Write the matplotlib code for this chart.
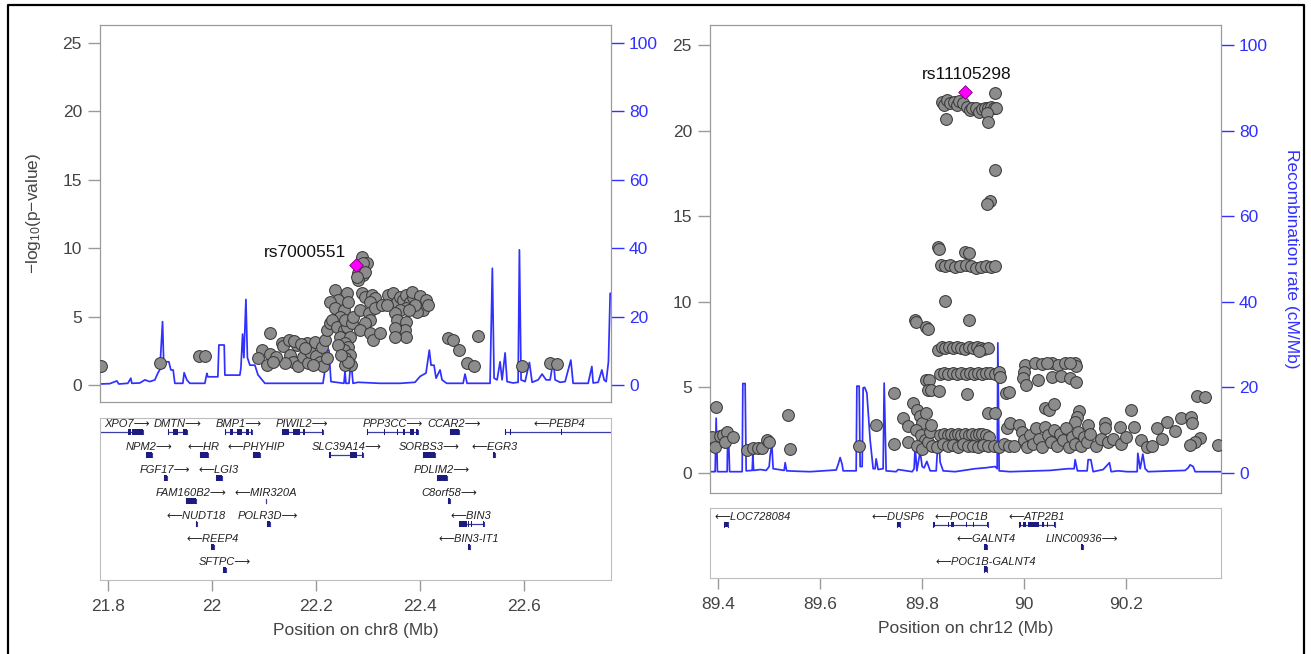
import matplotlib
matplotlib.use("Agg")
import matplotlib.pyplot as plt
from matplotlib.lines import Line2D
from matplotlib.patches import Rectangle
from matplotlib.ticker import FuncFormatter

plt.rcParams["font.family"] = ["Liberation Sans", "DejaVu Sans"]
plt.rcParams["mathtext.default"] = "regular"

# ---------------- chr8 region ----------------
chr8_snp_x = [21.786, 21.901, 21.976, 21.987,
              22.1115, 22.0956, 22.089, 22.105, 22.1115, 22.134, 22.137, 22.15, 22.156, 22.163,
              22.166, 22.176, 22.182, 22.185, 22.188, 22.198, 22.201, 22.208, 22.211, 22.214,
              22.217, 22.221, 22.222, 22.227, 22.149, 22.158, 22.171, 22.179, 22.194, 22.14,
              22.124, 22.118,
              22.237, 22.259, 22.243, 22.227, 22.237, 22.253, 22.262, 22.246, 22.231, 22.24,
              22.253, 22.259, 22.246, 22.265, 22.256, 22.262, 22.253, 22.265, 22.256, 22.268,
              22.256, 22.256, 22.269, 22.272, 22.243, 22.262, 22.249,
              22.288, 22.294, 22.307, 22.313, 22.304, 22.285, 22.301, 22.313, 22.326, 22.339,
              22.349, 22.355, 22.362, 22.368, 22.374, 22.381, 22.387, 22.397, 22.403, 22.406,
              22.394, 22.374, 22.362, 22.352, 22.336, 22.304, 22.294, 22.285, 22.355, 22.374,
              22.371, 22.352, 22.304, 22.310, 22.323, 22.374, 22.352,
              22.385, 22.4, 22.412, 22.415, 22.39, 22.379,
              22.288, 22.298, 22.291, 22.281, 22.291, 22.281, 22.294, 22.278,
              22.454, 22.464, 22.474, 22.512, 22.49, 22.503, 22.596, 22.649, 22.663]
chr8_snp_y = [1.39, 1.63, 2.12, 2.12,
              3.78, 2.56, 1.95, 1.46, 2.27, 3.05, 2.85, 2.19, 1.70, 2.92,
              1.39, 2.07, 3.05, 1.63, 2.43, 3.17, 2.12, 1.70, 2.80, 1.39,
              3.29, 1.95, 4.02, 4.55, 3.29, 3.24, 3.0, 2.68, 1.46, 1.59,
              2.07, 1.70,
              6.94, 6.70, 6.21, 6.09, 5.6, 5.48, 6.09, 4.99, 4.75, 4.26,
              4.02, 4.26, 3.53, 3.53, 3.05, 2.8, 2.56, 2.19, 1.95, 1.46,
              1.46, 4.75, 4.51, 4.99, 2.92, 1.70, 2.19,
              6.70, 6.45, 6.58, 6.34, 6.09, 5.48, 5.24, 5.61, 5.85, 6.58,
              6.70, 6.09, 6.45, 6.21, 6.58, 6.09, 6.45, 5.85, 6.09, 5.48,
              5.36, 5.61, 5.48, 5.24, 5.85, 4.75, 4.51, 4.02, 4.75, 4.63,
              4.02, 4.14, 3.78, 3.29, 3.78, 3.53, 3.53,
              6.8, 6.5, 6.2, 5.85, 5.85, 5.48,
              9.38, 8.9, 8.9, 8.17, 8.04, 7.68, 8.28, 7.9,
              3.41, 3.29, 2.56, 3.58, 1.59, 1.39, 1.39, 1.59, 1.54]
chr8_lead_x = 22.276
chr8_lead_y = 8.75
chr8_lead_name = "rs7000551"

chr8_recomb_x = [21.7846, 21.8038, 21.8173, 21.8212, 21.8385, 21.8442, 21.8462, 21.8615, 21.8712,
                 21.8808, 21.8904, 21.8962, 21.9, 21.9052, 21.9077, 21.9115, 21.9173, 21.9212,
                 21.9256, 21.9288, 21.9442, 21.9467, 21.9519, 21.9577, 21.9865, 21.9904, 21.9923,
                 22.0115, 22.0135, 22.0237, 22.0250, 22.0538, 22.0558, 22.0590, 22.0615, 22.0654,
                 22.0683, 22.0731, 22.0827, 22.0885, 22.1019, 22.2135, 22.2173, 22.2212, 22.225,
                 22.2288, 22.2538, 22.2558, 22.2577, 22.2635, 22.2654, 22.2692, 22.2712, 22.2808,
                 22.3231, 22.3615, 22.3904, 22.4, 22.4115, 22.4179, 22.4212, 22.4269, 22.4308,
                 22.4385, 22.4423, 22.4513, 22.4827, 22.4865, 22.4904, 22.5346, 22.5390, 22.5423,
                 22.5481, 22.5538, 22.5577, 22.5635, 22.5673, 22.5788, 22.5885, 22.5910, 22.5942,
                 22.6019, 22.6102, 22.6154, 22.6269, 22.6346, 22.6423, 22.65, 22.6563, 22.6596,
                 22.6692, 22.6788, 22.6898, 22.6942, 22.7231, 22.7302, 22.7327, 22.7423, 22.7494,
                 22.7538, 22.7577, 22.7621, 22.7654, 22.7673]
chr8_recomb_y = [0.3, 0.4, 1.2, 0.3, 0.5, 2.0, 0.5, 0.6, 1.5,
                 1.0, 1.5, 3.5, 4.5, 18.5, 5.0, 6.8, 6.8, 4.4,
                 4.4, 0.5, 0.5, 3.6, 1.5, 0.5, 0.5, 3.4, 2.4,
                 2.4, 11.7, 11.7, 2.9, 2.9, 5.0, 14.9, 8.0, 25.0,
                 8.0, 5.8, 5.8, 3.0, 0.5, 0.5, 4.4, 10.2, 10.2,
                 1.0, 0.5, 4.0, 0.5, 0.5, 4.0, 4.0, 0.5, 0.8,
                 0.5, 0.5, 0.8, 2.5, 3.5, 10.2, 5.8, 5.8, 2.0,
                 4.4, 1.5, 0.5, 0.5, 3.2, 0.5, 0.5, 34.1, 2.0,
                 1.5, 6.8, 1.5, 9.4, 1.0, 0.6, 0.8, 39.5, 1.5,
                 1.0, 6.6, 0.8, 1.5, 3.2, 1.5, 1.5, 7.3, 1.5,
                 0.8, 1.0, 7.3, 0.5, 0.5, 5.4, 0.6, 0.8, 4.4,
                 1.5, 1.0, 6.8, 26.8, 26.8]

chr8_genes = [("XPO7", 21.777, 21.867, "+", 0), ("DMTN", 21.915, 21.952, "+", 0),
              ("BMP1", 22.025, 22.077, "+", 0), ("PIWIL2", 22.134, 22.214, "+", 0),
              ("PPP3CC", 22.298, 22.397, "+", 0), ("CCAR2", 22.458, 22.474, "+", 0),
              ("PEBP4", 22.563, 22.771, "-", 0),
              ("NPM2", 21.874, 21.884, "+", 1), ("HR", 21.977, 21.992, "-", 1),
              ("PHYHIP", 22.079, 22.092, "-", 1), ("SLC39A14", 22.226, 22.291, "+", 1),
              ("SORBS3", 22.405, 22.429, "+", 1), ("EGR3", 22.541, 22.544, "-", 1),
              ("FGF17", 21.908, 21.913, "+", 2), ("LGI3", 22.008, 22.019, "-", 2),
              ("PDLIM2", 22.432, 22.451, "+", 2),
              ("FAM160B2", 21.951, 21.969, "+", 3), ("MIR320A", 22.1035, 22.1045, "-", 3),
              ("C8orf58", 22.454, 22.458, "+", 3),
              ("NUDT18", 21.969, 21.972, "-", 4), ("POLR3D", 22.105, 22.112, "+", 4),
              ("BIN3", 22.474, 22.523, "-", 4),
              ("REEP4", 21.999, 22.004, "-", 5), ("BIN3-IT1", 22.493, 22.496, "-", 5),
              ("SFTPC", 22.022, 22.027, "+", 6)]
chr8_exons = {"XPO7": [(21.838, 21.845), (21.847, 21.867)],
              "DMTN": [(21.915, 21.918), (21.925, 21.935), (21.945, 21.952)],
              "BMP1": [(22.025, 22.028), (22.034, 22.040), (22.048, 22.058), (22.066, 22.072), (22.075, 22.077)],
              "PIWIL2": [(22.134, 22.148), (22.155, 22.170), (22.175, 22.178), (22.211, 22.214)],
              "PPP3CC": [(22.298, 22.300), (22.330, 22.332), (22.355, 22.357), (22.368, 22.372),
                         (22.380, 22.388), (22.393, 22.397)],
              "PEBP4": [(22.563, 22.566), (22.572, 22.575), (22.670, 22.672)],
              "SLC39A14": [(22.226, 22.228), (22.265, 22.278), (22.289, 22.291)],
              "BIN3": [(22.474, 22.490), (22.492, 22.495), (22.498, 22.500), (22.521, 22.523)]}

# ---------------- chr12 region ----------------
chr12_snp_x = [89.395, 89.388, 89.394, 89.404, 89.410, 89.417, 89.414, 89.429, 89.537, 89.541,
               89.456, 89.469, 89.478, 89.486, 89.495, 89.5, 89.676, 89.71, 89.744, 89.744,
               89.762, 89.773, 89.773,
               89.786, 89.788, 89.808, 89.811, 89.844, 89.892, 89.832, 89.834, 89.884, 89.892,
               89.836, 89.845, 89.855, 89.865, 89.875, 89.885, 89.895, 89.905, 89.915, 89.925,
               89.935, 89.943,
               89.839, 89.843, 89.848, 89.855, 89.862, 89.868, 89.873, 89.88, 89.888, 89.893,
               89.898, 89.905, 89.912, 89.918, 89.924, 89.93, 89.935, 89.94, 89.945, 89.927,
               89.847, 89.93, 89.943, 89.943, 89.933, 89.927,
               89.831, 89.838, 89.845, 89.852, 89.86, 89.868, 89.876, 89.884, 89.892, 89.9,
               89.908, 89.915, 89.922, 89.929, 89.912,
               89.835, 89.843, 89.851, 89.86, 89.868, 89.876, 89.885, 89.893, 89.902, 89.91,
               89.918, 89.926, 89.934, 89.942, 89.95, 89.953, 89.808, 89.813,
               89.811, 89.817, 89.834, 89.888, 89.965, 89.971, 89.93, 89.943, 89.966, 89.973,
               89.782, 89.79, 89.795, 89.8, 89.788, 89.797, 89.805, 89.79, 89.8, 89.812,
               89.815, 89.808, 89.818,
               89.835, 89.842, 89.85, 89.857, 89.864, 89.87, 89.877, 89.884, 89.891, 89.898,
               89.905, 89.912, 89.918, 89.925, 89.932,
               89.82, 89.83, 89.84, 89.85, 89.86, 89.87, 89.88, 89.89, 89.9, 89.91,
               89.92, 89.93, 89.94, 89.95, 89.96, 89.97, 89.98,
               90.002, 90.022, 90.035, 90.054, 90.067, 90.08, 90.1, 90.102, 90.09, 90.045,
               90.0, 89.997, 90.003, 90.028, 90.054, 90.073, 90.089, 90.101,
               90.041, 90.049, 90.058, 90.107, 90.104, 90.1, 90.21, 90.308, 90.327, 90.329,
               90.339, 90.355, 90.28, 90.296, 90.26, 90.216, 90.187, 90.158, 90.158, 90.126,
               90.345, 90.335, 90.325, 90.38,
               89.99, 89.995, 90.0, 90.005, 90.012, 90.018, 90.024, 90.03, 90.035, 90.04,
               90.047, 90.052, 90.058, 90.064, 90.07, 90.076, 90.082, 90.088, 90.094, 90.1,
               90.106, 90.112, 90.118, 90.124, 90.13, 90.14, 90.15, 90.165, 90.175, 90.19,
               90.2, 90.23, 90.24, 90.25, 90.27]
chr12_snp_y = [3.84, 2.1, 1.54, 2.16, 2.22, 2.41, 1.83, 2.12, 3.41, 1.42,
               1.34, 1.46, 1.46, 1.48, 1.93, 1.81, 1.58, 2.82, 4.67, 1.69,
               3.23, 2.74, 1.83,
               8.94, 8.82, 8.55, 8.40, 10.06, 8.94, 13.2, 13.1, 12.9, 12.85,
               12.15, 12.1, 12.15, 12.05, 12.1, 12.15, 12.1, 12.0, 12.05, 12.1,
               12.05, 12.1,
               21.7, 21.5, 21.8, 21.6, 21.7, 21.5, 21.75, 21.6, 21.4, 21.2,
               21.35, 21.3, 21.1, 21.25, 21.35, 21.3, 21.4, 21.35, 21.3, 21.0,
               20.7, 20.5, 22.2, 17.7, 15.9, 15.7,
               7.2, 7.35, 7.3, 7.35, 7.3, 7.35, 7.3, 7.25, 7.35, 7.3,
               7.35, 7.3, 7.25, 7.3, 7.1,
               5.8, 5.85, 5.8, 5.85, 5.8, 5.85, 5.8, 5.85, 5.8, 5.85,
               5.8, 5.85, 5.85, 5.8, 5.9, 5.62, 5.43, 5.43,
               4.85, 4.85, 4.79, 4.6, 4.65, 4.75, 3.49, 3.52, 2.61, 2.94,
               4.1, 3.7, 3.3, 2.9, 2.5, 2.2, 1.9, 1.6, 1.4, 1.8,
               2.4, 3.5, 2.8,
               2.2, 2.3, 2.2, 2.25, 2.2, 2.3, 2.2, 2.25, 2.2, 2.3,
               2.2, 2.25, 2.3, 2.2, 2.1,
               1.6, 1.5, 1.7, 1.55, 1.65, 1.5, 1.7, 1.55, 1.6, 1.5,
               1.65, 1.55, 1.6, 1.5, 1.7, 1.55, 1.6,
               6.31, 6.44, 6.35, 6.44, 6.31, 6.44, 6.44, 6.25, 6.4, 6.4,
               5.92, 5.53, 5.14, 5.43, 5.59, 5.66, 5.57, 5.33,
               3.78, 3.68, 4.01, 3.62, 3.29, 3.0, 3.68, 3.2, 3.29, 2.9,
               4.52, 4.46, 3.0, 2.47, 2.61, 2.67, 2.71, 2.94, 2.65, 2.8,
               2.03, 1.79, 1.64, 1.64,
               2.8, 2.4, 1.9, 1.5, 2.2, 1.7, 2.6, 2.0, 1.5, 2.7,
               2.2, 1.8, 2.5, 1.6, 2.3, 1.9, 2.6, 1.5, 2.1, 1.7,
               2.4, 1.6, 2.1, 1.8, 2.3, 1.6, 2.0, 1.8, 2.0, 1.7,
               2.1, 1.9, 1.5, 1.6, 2.0]
chr12_lead_x = 89.884
chr12_lead_y = 22.25
chr12_lead_name = "rs11105298"

chr12_recomb_x = [89.3843, 89.3922, 89.3941, 89.3961, 89.3986, 89.4176, 89.4186, 89.4206, 89.4225,
                  89.4471, 89.4484, 89.4529, 89.4549, 89.4667, 89.4680, 89.4696, 89.4824, 89.4941,
                  89.5, 89.5020, 89.5053, 89.5078, 89.5294, 89.5314, 89.5343, 89.5549, 89.5804,
                  89.6059, 89.6314, 89.6353, 89.6392, 89.6431, 89.6451, 89.6706, 89.6720, 89.6765,
                  89.6784, 89.6824, 89.6843, 89.6873, 89.6916, 89.6980, 89.7039, 89.7078, 89.7098,
                  89.7137, 89.7235, 89.7255, 89.7294, 89.7490, 89.7529, 89.7804, 89.7843, 89.7863,
                  89.7896, 89.7961, 89.8, 89.8039, 89.8092, 89.8157, 89.8275, 89.8320, 89.8353,
                  89.8412, 89.8647, 89.9039, 89.9235, 89.9431, 89.9471, 89.9484, 89.9510, 89.9725,
                  90.0510, 90.0863, 90.0980, 90.1, 90.1045, 90.1235, 90.1255, 90.1308, 90.1353,
                  90.1549, 90.1673, 90.1706, 90.1843, 90.2020, 90.2216, 90.2229, 90.2275, 90.2327,
                  90.2373, 90.2431, 90.3157, 90.3216, 90.3255, 90.3314, 90.3353, 90.3863]
chr12_recomb_y = [0.3, 0.3, 0.3, 12.8, 0.3, 0.3, 7.3, 7.3, 0.3,
                  0.3, 20.9, 20.9, 0.5, 0.6, 4.2, 0.6, 0.8, 0.6,
                  1.5, 4.2, 6.6, 1.0, 0.6, 2.4, 0.5, 0.4, 0.3,
                  0.5, 0.7, 2.0, 3.6, 2.0, 0.5, 0.5, 20.3, 20.3,
                  1.5, 1.5, 19.9, 20.0, 18.7, 7.7, 1.0, 1.0, 3.3,
                  0.8, 1.0, 21.0, 0.5, 0.3, 0.8, 0.3, 1.0, 6.2,
                  0.5, 5.0, 1.5, 1.2, 2.7, 0.5, 0.5, 9.3, 2.5,
                  0.5, 0.3, 1.0, 1.2, 1.5, 1.0, 30.4, 0.5, 0.3,
                  0.6, 1.0, 1.0, 3.1, 0.5, 0.5, 3.1, 3.1, 0.3,
                  0.8, 2.4, 0.3, 0.5, 0.3, 0.3, 4.6, 1.0, 4.4,
                  1.0, 0.3, 0.6, 1.2, 1.9, 1.5, 0.3, 0.3]

chr12_genes = [("LOC728084", 89.412, 89.420, "-", 0), ("DUSP6", 89.750, 89.756, "-", 0),
               ("POC1B", 89.822, 89.930, "-", 0), ("ATP2B1", 89.989, 90.061, "-", 0),
               ("GALNT4", 89.922, 89.927, "-", 1), ("LINC00936", 90.1115, 90.1145, "+", 1),
               ("POC1B-GALNT4", 89.922, 89.928, "-", 2)]
chr12_exons = {"POC1B": [(89.822, 89.826), (89.850, 89.852), (89.857, 89.862), (89.885, 89.888),
                         (89.900, 89.902), (89.927, 89.930)],
               "ATP2B1": [(89.989, 89.993), (89.997, 90.003), (90.008, 90.030), (90.035, 90.038),
                          (90.045, 90.047), (90.058, 90.061)]}

GREY = "#444444"
SPINE = "#9a9a9a"
BLUE = "#3030ff"
W, H = 1311, 654


def frac(x0, y0, x1, y1):
    return [x0 / W, 1 - y1 / H, (x1 - x0) / W, (y1 - y0) / H]


def fmt(v, pos):
    return "%g" % round(v, 3)


def main_panel(ax, xlim, sx, sy, lead_x, lead_y, lead_name, lab_x, lab_y, rx, ry, ylim,
               left_label, right_label):
    ax2 = ax.twinx()
    ax.set_zorder(ax2.get_zorder() + 1)
    ax.patch.set_visible(False)
    ax2.plot(rx, ry, color=BLUE, lw=1.25)
    ax.scatter(sx, sy, s=72, facecolor="#8c8c8c", edgecolor="#3a3a3a", linewidth=0.75, zorder=3)
    ax.scatter([lead_x], [lead_y], s=48, marker="D", facecolor="#ff00ff", edgecolor="#7a007a",
               linewidth=0.6, zorder=4)
    ax.text(lab_x, lab_y, lead_name, ha="center", va="center", fontsize=12.5, color="#111111")
    ax.set_xlim(xlim)
    ax.set_ylim(ylim)
    ax2.set_ylim(ylim[0] * 4, ylim[1] * 4)
    ax.set_yticks([0, 5, 10, 15, 20, 25])
    ax2.set_yticks([0, 20, 40, 60, 80, 100])
    ax.set_xticks([])
    for a in (ax, ax2):
        for sp in a.spines.values():
            sp.set_color(SPINE)
    ax.tick_params(axis="y", length=9, width=1, color=SPINE, labelcolor=GREY, labelsize=12.5, pad=4)
    ax2.tick_params(axis="y", length=9, width=1, color=BLUE, labelcolor=BLUE, labelsize=12.5, pad=4)
    if left_label:
        ax.set_ylabel(r"$-$log$_{10}$(p$-$value)", fontsize=12.5, color=GREY, labelpad=14)
    if right_label:
        ax2.set_ylabel("Recombination rate (cM/Mb)", fontsize=12.5, color=BLUE, rotation=270,
                       labelpad=22)


def gene_panel(ax, xlim, ylim, genes, exons, ticks, xlabel):
    span = xlim[1] - xlim[0]
    for name, start, end, strand, row in genes:
        y = -row
        ax.plot([start, end], [y, y], color="#3b3ba8", lw=0.9, solid_capstyle="butt")
        ax.plot([start, start], [y - 0.1, y + 0.1], color="#3b3ba8", lw=0.8)
        ax.plot([end, end], [y - 0.1, y + 0.1], color="#3b3ba8", lw=0.8)
        for s, e in exons.get(name, [(start, end)]):
            w = max(e - s, 0.0012)
            ax.add_patch(Rectangle((s, y - 0.13), w, 0.26, facecolor="#1c1c80",
                                   edgecolor="none", zorder=3))
        label = name + "\u27f6" if strand == "+" else "\u27f5" + name
        if start < xlim[0] + 0.04 * span:
            lx, ha = xlim[0] + 0.008 * span, "left"
        else:
            lx, ha = (start + end) / 2, "center"
        ax.text(lx, y + 0.34, label, ha=ha, va="center", fontsize=8, style="italic",
                color="#222222")
    ax.set_xlim(xlim)
    ax.set_ylim(ylim)
    ax.set_yticks([])
    ax.set_xticks(ticks)
    ax.xaxis.set_major_formatter(FuncFormatter(fmt))
    for sp in ax.spines.values():
        sp.set_color("#bdbdbd")
    ax.tick_params(axis="x", length=8, width=1, color=SPINE, labelcolor=GREY, labelsize=12.5, pad=6)
    ax.set_xlabel(xlabel, fontsize=12.5, color=GREY, labelpad=6)


fig = plt.figure(figsize=(13.11, 6.54), dpi=100)

xl8 = (21.785, 22.767)
xl12 = (89.384, 90.386)

ax_l = fig.add_axes(frac(100, 25, 611, 402))
main_panel(ax_l, xl8, chr8_snp_x, chr8_snp_y, chr8_lead_x, chr8_lead_y, chr8_lead_name,
           22.179, 9.65, chr8_recomb_x, chr8_recomb_y, (-1.24, 26.3), True, False)
g_l = fig.add_axes(frac(100, 418, 611, 580))
gene_panel(g_l, xl8, (-6.43, 0.61), chr8_genes, chr8_exons, [21.8, 22.0, 22.2, 22.4, 22.6],
           "Position on chr8 (Mb)")

ax_r = fig.add_axes(frac(710, 25, 1221, 493))
main_panel(ax_r, xl12, chr12_snp_x, chr12_snp_y, chr12_lead_x, chr12_lead_y, chr12_lead_name,
           89.888, 23.25, chr12_recomb_x, chr12_recomb_y, (-1.17, 26.17), False, True)
g_r = fig.add_axes(frac(710, 508, 1221, 578))
gene_panel(g_r, xl12, (-2.39, 0.74), chr12_genes, chr12_exons, [89.4, 89.6, 89.8, 90.0, 90.2],
           "Position on chr12 (Mb)")

# outer frame
fig.add_artist(Line2D([8 / W, 8 / W, 1304 / W, 1304 / W], [0, 1 - 5 / H, 1 - 5 / H, 0],
                      transform=fig.transFigure, color="black", lw=1.6))

fig.savefig("out.png", dpi=100)
